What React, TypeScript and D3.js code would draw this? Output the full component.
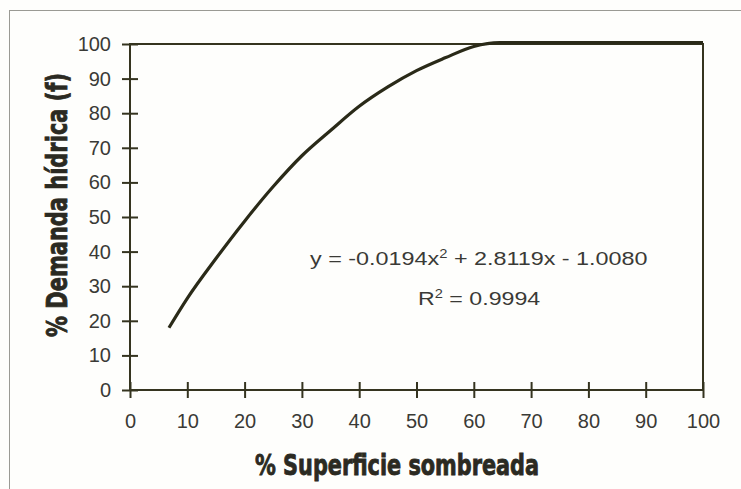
import React, { useEffect, useRef } from 'react';
import * as d3 from 'd3';

// % shaded surface vs % water demand
const sombra = [6.8, 10, 15, 20, 25, 30, 35, 40, 45, 50, 55, 60, 64.5, 70, 80, 90, 100];
const demanda = [18, 26.5, 38, 48.8, 58.8, 67.7, 75, 82, 87.6, 92.3, 96, 99.3, 100.4, 100.4, 100.4, 100.4, 100.4];
const xTicks = [0, 10, 20, 30, 40, 50, 60, 70, 80, 90, 100];
const yTicks = [0, 10, 20, 30, 40, 50, 60, 70, 80, 90, 100];

const INK = '#35341f';
const TEXT = '#3a3a36';

export default function App() {
  const svgRef = useRef<SVGSVGElement>(null);

  useEffect(() => {
    const W = 741;
    const H = 489;
    const margin = { top: 44, right: 38, bottom: 99, left: 130 };
    const width = W - margin.left - margin.right;
    const height = H - margin.top - margin.bottom;

    const root = d3.select(svgRef.current);
    root.selectAll('*').remove();
    root.attr('width', W).attr('height', H);

    root.append('rect').attr('width', W).attr('height', H).attr('fill', '#fefefc');

    // outer chart frame (only top and left edges fall inside the scan)
    root.append('rect')
      .attr('x', 9.5).attr('y', 10.5)
      .attr('width', W + 20).attr('height', H + 20)
      .attr('fill', 'none')
      .attr('stroke', '#9a9a94')
      .attr('stroke-width', 1);

    const svg = root.append('g').attr('transform', `translate(${margin.left},${margin.top})`);

    const x = d3.scaleLinear().domain([0, 100]).range([0, width]);
    const y = d3.scaleLinear().domain([0, 100]).range([height, 0]);

    // plot area frame
    svg.append('rect')
      .attr('width', width).attr('height', height)
      .attr('fill', 'none')
      .attr('stroke', INK)
      .attr('stroke-width', 2);

    const yAxis = svg.append('g')
      .call(d3.axisLeft(y).tickValues(yTicks).tickSize(8).tickPadding(11).tickFormat(d3.format('d')));
    yAxis.select('.domain').remove();
    yAxis.selectAll('.tick line').attr('x1', 8).attr('x2', -8).attr('stroke', INK).attr('stroke-width', 2);
    yAxis.selectAll('.tick text')
      .attr('fill', TEXT)
      .style('font-family', '"Liberation Sans", Arial, sans-serif')
      .style('font-size', '20px');

    const xAxis = svg.append('g')
      .attr('transform', `translate(0,${height})`)
      .call(d3.axisBottom(x).tickValues(xTicks).tickSize(8).tickPadding(16).tickFormat(d3.format('d')));
    xAxis.select('.domain').remove();
    xAxis.selectAll('.tick line').attr('y1', -8).attr('y2', 8).attr('stroke', INK).attr('stroke-width', 2);
    xAxis.selectAll('.tick text')
      .attr('fill', TEXT)
      .style('font-family', '"Liberation Sans", Arial, sans-serif')
      .style('font-size', '20px');

    // data curve
    const pts = sombra.map((s, i) => [s, demanda[i]] as [number, number]);
    const line = d3.line<[number, number]>()
      .x(d => x(d[0]))
      .y(d => y(d[1]))
      .curve(d3.curveMonotoneX);

    svg.append('path')
      .datum(pts)
      .attr('fill', 'none')
      .attr('stroke', '#2a2a18')
      .attr('stroke-width', 3.2)
      .attr('stroke-linejoin', 'round')
      .attr('d', line);

    // trendline equation (scan is stretched horizontally)
    const eq = svg.append('text')
      .attr('transform', 'translate(180,221) scale(1.23,1)')
      .attr('fill', TEXT)
      .style('font-family', '"Liberation Sans", Arial, sans-serif')
      .style('font-size', '19px');
    eq.append('tspan').text('y = -0.0194x');
    eq.append('tspan').attr('dy', -7).style('font-size', '12px').text('2');
    eq.append('tspan').attr('dy', 7).text(' + 2.8119x - 1.0080');

    const r2 = svg.append('text')
      .attr('transform', 'translate(288,261) scale(1.22,1)')
      .attr('fill', TEXT)
      .style('font-family', '"Liberation Sans", Arial, sans-serif')
      .style('font-size', '19px');
    r2.append('tspan').text('R');
    r2.append('tspan').attr('dy', -7).style('font-size', '12px').text('2');
    r2.append('tspan').attr('dy', 7).text(' = 0.9994');

    // axis titles
    const titleFont = '"Liberation Sans Narrow", "DejaVu Sans Condensed", "Liberation Sans", sans-serif';
    root.append('text')
      .attr('x', 255).attr('y', 475)
      .attr('textLength', 284)
      .attr('lengthAdjust', 'spacingAndGlyphs')
      .attr('fill', '#2b2a22')
      .attr('stroke', '#2b2a22')
      .attr('stroke-width', 0.8)
      .style('font-family', titleFont)
      .style('font-weight', 'bold')
      .style('font-size', '28px')
      .text('% Superficie sombreada');

    root.append('text')
      .attr('transform', 'translate(67,337) rotate(-90)')
      .attr('textLength', 264)
      .attr('lengthAdjust', 'spacingAndGlyphs')
      .attr('fill', '#2b2a22')
      .attr('stroke', '#2b2a22')
      .attr('stroke-width', 0.8)
      .style('font-family', titleFont)
      .style('font-weight', 'bold')
      .style('font-size', '28px')
      .text('% Demanda hídrica (f)');
  }, []);

  return (
    <svg ref={svgRef} style={{ position: 'absolute', left: 0, top: 0, display: 'block' }} />
  );
}
